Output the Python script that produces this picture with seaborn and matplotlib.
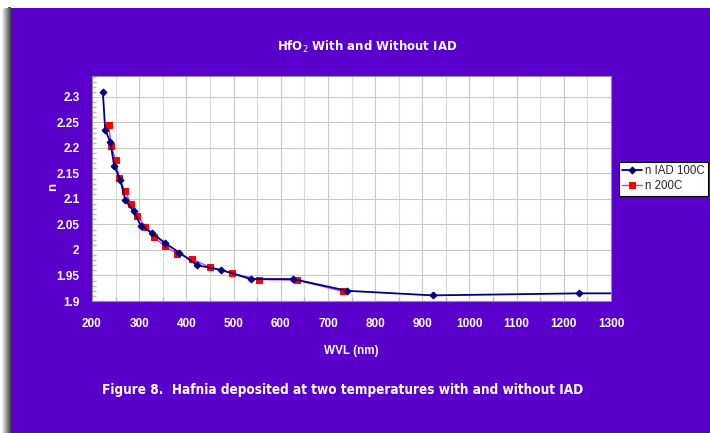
import numpy as np
import pandas as pd
import matplotlib
matplotlib.use("Agg")
import matplotlib.pyplot as plt
from matplotlib.patches import Rectangle
from matplotlib.ticker import MultipleLocator
from matplotlib import font_manager as fm
import seaborn as sns

# ---- data ----
wvl_iad = [223, 228, 239, 247, 260, 271, 288, 304, 328, 354, 385, 423, 474, 536, 626, 741, 922, 1233, 1500]
n_iad = [2.309, 2.236, 2.211, 2.165, 2.137, 2.097, 2.076, 2.047, 2.033, 2.014, 1.995, 1.970, 1.961,
         1.943, 1.943, 1.920, 1.911, 1.915, 1.915]
wvl_200 = [235, 241, 250, 258, 270, 282, 296, 313, 332, 354, 381, 413, 450, 497, 554, 634, 731]
n_200 = [2.245, 2.204, 2.176, 2.141, 2.116, 2.091, 2.067, 2.046, 2.026, 2.007, 1.993, 1.982, 1.966,
         1.954, 1.942, 1.941, 1.919]
x_ticks = [200, 300, 400, 500, 600, 700, 800, 900, 1000, 1100, 1200, 1300]
y_ticks = [1.9, 1.95, 2.0, 2.05, 2.1, 2.15, 2.2, 2.25, 2.3]
y_tick_labels = ["1.9", "1.95", "2", "2.05", "2.1", "2.15", "2.2", "2.25", "2.3"]
series_names = ["n IAD 100C", "n 200C"]

df = pd.concat([
    pd.DataFrame({"wvl": wvl_iad, "n": n_iad, "series": series_names[0]}),
    pd.DataFrame({"wvl": wvl_200, "n": n_200, "series": series_names[1]}),
])

sns.set_theme(style="white")
plt.rcParams["font.family"] = ["Liberation Sans", "DejaVu Sans"]


def font_file(name, fallback_weight):
    for f in fm.fontManager.ttflist:
        if f.fname.endswith(name):
            return fm.FontProperties(fname=f.fname)
    return fm.FontProperties(family="Liberation Sans", weight=fallback_weight)


def fp(name, size, weight):
    p = font_file(name, weight).copy()
    p.set_size(size)
    return p


W, H = 710, 433
fig = plt.figure(figsize=(W / 100, H / 100), dpi=100)
fig.patch.set_facecolor("white")

PURPLE = "#5900CC"
for i in range(9):
    a = 0.08 + 0.08 * i
    fig.add_artist(Rectangle(((2 + i) / W, 0), 1 / W, 1 - (9 - i * 0.3) / H,
                             transform=fig.transFigure, facecolor="black", alpha=min(a, 0.75),
                             edgecolor="none", zorder=0))
fig.add_artist(Rectangle((11 / W, 0), 1 - 11 / W, 1 - 8 / H, transform=fig.transFigure,
                         facecolor=PURPLE, edgecolor="none", zorder=1))

ax = fig.add_axes([92 / W, 1 - 301 / H, (611 - 92) / W, (301 - 76) / H])
ax.set_zorder(2)
ax.set_facecolor("white")

sns.lineplot(data=df[df.series == series_names[0]], x="wvl", y="n", ax=ax, color="#000080",
             lw=1.3, marker="D", markersize=3.5, markerfacecolor="#000080",
             markeredgecolor="#000080", label=series_names[0], sort=False, zorder=4)
sns.lineplot(data=df[df.series == series_names[1]], x="wvl", y="n", ax=ax, color="#B844F0",
             lw=1.0, marker="s", markersize=4.5, markerfacecolor="#FF0000",
             markeredgecolor="#FF0000", label=series_names[1], sort=False, zorder=3)

ax.set_xlim(200, 1300)
ax.set_ylim(1.9, 2.341)
ax.set_xticks(x_ticks)
ax.set_yticks(y_ticks)
ax.set_yticklabels(y_tick_labels)
ax.xaxis.set_minor_locator(MultipleLocator(50))
ax.yaxis.set_minor_locator(MultipleLocator(0.01))
ax.grid(which="major", axis="both", color="#C8C8C8", lw=0.8)
ax.grid(which="minor", axis="x", color="#DADADA", lw=0.8)
ax.tick_params(axis="x", which="major", colors="white", length=0, pad=12)
ax.tick_params(axis="y", which="major", colors="white", length=0, pad=9)
ax.tick_params(axis="y", which="minor", direction="in", length=3, color="#BBBBBB", left=True)
ax.tick_params(axis="x", which="minor", direction="in", length=3, color="#BBBBBB", bottom=True)

bold_tick = fp("LiberationSans-Bold.ttf", 8.5, "bold")
for lab in ax.get_xticklabels() + ax.get_yticklabels():
    lab.set_fontproperties(bold_tick)
for s in ax.spines.values():
    s.set_color("#909090")
    s.set_linewidth(0.8)

ax.set_xlabel("WVL (nm)", color="white", fontproperties=fp("LiberationSans-Bold.ttf", 8.5, "bold"),
              labelpad=11)
ax.set_ylabel("n", color="white", fontproperties=fp("LiberationSans-Bold.ttf", 9.5, "bold"))
ax.yaxis.set_label_coords((59 - 92) / 519, (301 - 187) / 225)

leg = ax.legend(loc="upper left", bbox_to_anchor=(619 / W, 1 - 162 / H),
                bbox_transform=fig.transFigure, frameon=True, fancybox=False,
                prop=fp("LiberationSans-Regular.ttf", 8.3, "normal"),
                handlelength=1.7, handletextpad=0.25, borderpad=0.3, borderaxespad=0,
                labelspacing=0.25, framealpha=1, facecolor="white")
leg.get_frame().set_edgecolor("black")
leg.get_frame().set_linewidth(0.8)

title = fig.text(367 / W, 1 - 47 / H, "HfO$_2$ With and Without IAD", color="white", fontsize=8.5,
                 fontweight="bold", ha="center", va="center", family=["DejaVu Sans"], zorder=5)
cap = fig.text(102 / W, 1 - 390 / H,
               "Figure 8.  Hafnia deposited at two temperatures with and without IAD",
               color="white", fontsize=11, fontweight="bold", ha="left", va="center",
               family=["DejaVu Sans"], fontstretch="condensed", zorder=5)

fig.canvas.draw()
r = fig.canvas.get_renderer()
w = cap.get_window_extent(r).width
cap.set_fontsize(11 * 481 / w)

fig.savefig("out.png", dpi=100, facecolor=fig.get_facecolor())
